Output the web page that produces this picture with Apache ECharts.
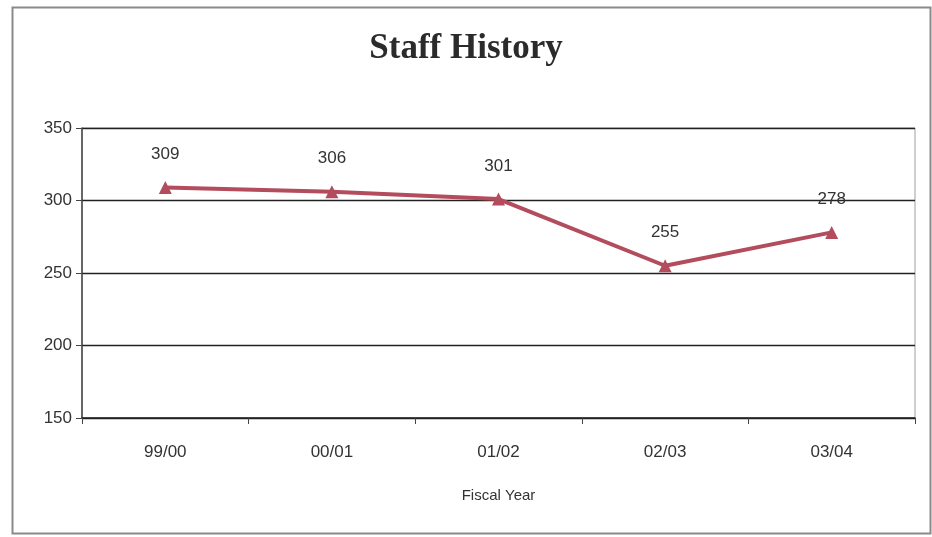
<!DOCTYPE html>
<html>
<head>
<meta charset="utf-8">
<script src="https://cdn.jsdelivr.net/npm/echarts@6/dist/echarts.min.js"></script>
<style>
  html, body { margin: 0; padding: 0; background: #fff; }
  #chart { width: 932px; height: 537px; }
</style>
</head>
<body>
<div id="chart"></div>
<script>
// Staff headcount per fiscal year
const fiscalYears = ['99/00', '00/01', '01/02', '02/03', '03/04'];
const staffCounts = [309, 306, 301, 255, 278];
const yTicks = { min: 150, max: 350, step: 50 };

const chart = echarts.init(document.getElementById('chart'), null, { renderer: 'canvas' });

const labelFont = 'Liberation Sans, Arial, sans-serif';

chart.setOption({
  backgroundColor: '#ffffff',
  animation: false,
  title: {
    text: 'Staff History',
    left: 'center',
    top: 26,
    textStyle: {
      fontFamily: 'Liberation Serif, DejaVu Serif, serif',
      fontWeight: 'bold',
      fontSize: 35,
      color: '#2b2b2b'
    }
  },
  graphic: [{
    type: 'rect',
    shape: { x: 12.5, y: 7.5, width: 918, height: 526 },
    style: { fill: 'none', stroke: '#8a8a8a', lineWidth: 2 },
    silent: true
  }],
  grid: {
    left: 82,
    top: 128,
    right: 17,
    bottom: 119,
    show: true,
    borderColor: '#a0a0a0',
    borderWidth: 1
  },
  xAxis: {
    type: 'category',
    data: fiscalYears,
    boundaryGap: true,
    name: 'Fiscal Year',
    nameLocation: 'middle',
    nameGap: 70,
    nameTextStyle: { fontFamily: labelFont, fontSize: 15, color: '#333' },
    axisLine: { lineStyle: { color: '#222', width: 1.5 } },
    axisTick: { show: true, length: 6, lineStyle: { color: '#444' } },
    axisLabel: { fontFamily: labelFont, fontSize: 17, color: '#333', margin: 26 }
  },
  yAxis: {
    type: 'value',
    min: yTicks.min,
    max: yTicks.max,
    interval: yTicks.step,
    axisLine: { show: true, lineStyle: { color: '#444', width: 1.5 } },
    axisTick: { show: true, length: 6, lineStyle: { color: '#444' } },
    axisLabel: { fontFamily: labelFont, fontSize: 17, color: '#333', margin: 10 },
    splitLine: { show: true, lineStyle: { color: '#222', width: 1.3 } }
  },
  series: [{
    type: 'line',
    data: staffCounts,
    symbol: 'triangle',
    symbolSize: 13,
    lineStyle: { color: '#b34c5c', width: 4 },
    itemStyle: { color: '#b34c5c' },
    label: {
      show: true,
      position: 'top',
      distance: 18,
      fontFamily: labelFont,
      fontSize: 17,
      color: '#333'
    }
  }]
});
</script>
</body>
</html>
